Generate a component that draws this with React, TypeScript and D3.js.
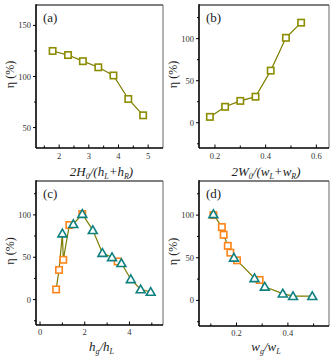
import { useRef, useEffect } from 'react';
import * as d3 from 'd3';

// panel (a)
const aX = [1.78, 2.3, 2.8, 3.32, 3.83, 4.33, 4.83];
const aY = [125, 121, 115, 109, 101, 78, 62];
// panel (b)
const bX = [0.18, 0.24, 0.3, 0.36, 0.42, 0.48, 0.54];
const bY = [7, 19, 26, 31, 62, 101, 119];
// panel (c)
const cSqX = [0.72, 0.85, 1.04, 1.31, 1.89, 3.47];
const cSqY = [12, 35, 47, 88, 101, 45];
const cTriX = [1.0, 1.49, 1.89, 2.36, 2.79, 3.22, 3.64, 4.06, 4.5, 4.95];
const cTriY = [78, 89, 101, 82, 55, 50, 43, 24, 12, 9];
// panel (d)
const dSqX = [0.11, 0.143, 0.15, 0.166, 0.176, 0.202, 0.29];
const dSqY = [100, 86, 77, 64, 56, 47, 24];
const dTriX = [0.11, 0.19, 0.27, 0.31, 0.38, 0.42, 0.495];
const dTriY = [101, 50, 26, 16, 8, 5, 5];

const aTicksX = [2, 3, 4, 5];
const aTicksY = [50, 100, 150];
const bTicksX = [0.2, 0.4, 0.6];
const cTicksX = [0, 2, 4];
const dTicksX = [0.2, 0.4];
const etaTicks = [0, 50, 100];

const OLIVE = '#8c8c00';
const LINE = '#7d7d00';
const ORANGE = '#ff8419';
const TEAL = '#0f8080';
const FONT = '"Liberation Serif", "Times New Roman", "DejaVu Serif", serif';

type P = { x: number; y: number; k: 'sq' | 'tri' | 'ol' };

export default function App() {
  const ref = useRef<SVGSVGElement>(null);

  useEffect(() => {
    document.body.style.margin = '0';
    const svg = d3.select(ref.current);
    svg.selectAll('*').remove();

    const panel = (o: any) => {
      const { l, r, t, b, xd, yd, xt, yt, xminor, yminor, pts, tag, xlab, tlo, xlo } = o;
      const x = d3.scaleLinear().domain(xd).range([l, r]);
      const y = d3.scaleLinear().domain(yd).range([b, t]);
      const g = svg.append('g').attr('font-family', FONT);

      // frame
      g.append('line').attr('x1', r).attr('x2', r).attr('y1', t).attr('y2', b)
        .attr('stroke', '#666').attr('stroke-width', 1);
      g.append('line').attr('x1', l).attr('x2', r).attr('y1', t).attr('y2', t)
        .attr('stroke', '#555').attr('stroke-width', 1.6);
      g.append('line').attr('x1', l).attr('x2', l).attr('y1', t - 0.8).attr('y2', b)
        .attr('stroke', '#000').attr('stroke-width', 1.6);
      g.append('line').attr('x1', l).attr('x2', r).attr('y1', b).attr('y2', b)
        .attr('stroke', '#000').attr('stroke-width', 1.4);

      // ticks
      xminor.forEach((v: number) => {
        const big = xt.includes(v);
        g.append('line').attr('x1', x(v)).attr('x2', x(v)).attr('y1', b).attr('y2', b - (big ? 3.5 : 2.5))
          .attr('stroke', '#000').attr('stroke-width', 1);
      });
      yminor.forEach((v: number) => {
        const big = yt.includes(v);
        g.append('line').attr('y1', y(v)).attr('y2', y(v)).attr('x1', l).attr('x2', l - (big ? 3 : 2))
          .attr('stroke', '#000').attr('stroke-width', 1);
      });
      xt.forEach((v: number) => {
        g.append('text').attr('x', x(v)).attr('y', b + tlo).attr('text-anchor', 'middle')
          .attr('font-size', 8.5).attr('fill', '#333').text(String(v));
      });
      yt.forEach((v: number) => {
        g.append('text').attr('x', l - 5).attr('y', y(v) + 3).attr('text-anchor', 'end')
          .attr('font-size', 8.5).attr('fill', '#333').text(String(v));
      });

      // y label
      g.append('text').attr('transform', `translate(${l - 22},${(t + b) / 2 - 2}) rotate(-90)`)
        .attr('text-anchor', 'middle').attr('font-size', 12).attr('fill', '#222').text('η (%)');

      // x label
      const xl = g.append('text').attr('x', (l + r) / 2 + 2).attr('y', b + xlo).attr('text-anchor', 'middle')
        .attr('font-size', 13).attr('font-style', 'italic').attr('fill', '#222');
      xlab.forEach((s: [string, number]) => {
        const ts = xl.append('tspan').text(s[0]);
        if (s[1] === 1) ts.attr('dy', 2.5).attr('font-size', 8);
        if (s[1] === -1) ts.attr('dy', -2.5);
      });

      // panel tag
      g.append('text').attr('x', l + 7).attr('y', t + 17).attr('font-size', 13)
        .attr('fill', '#222').text(tag);

      // line
      const sorted = [...pts].sort((p: P, q: P) => p.x - q.x);
      g.append('path').datum(sorted)
        .attr('d', d3.line<P>().x((d) => x(d.x)).y((d) => y(d.y)))
        .attr('fill', 'none').attr('stroke', LINE).attr('stroke-width', 1.2);

      const sq = pts.filter((p: P) => p.k !== 'tri');
      g.selectAll('rect.m').data(sq).enter().append('rect').attr('class', 'm')
        .attr('x', (d: P) => x(d.x) - 3.2).attr('y', (d: P) => y(d.y) - 3.2)
        .attr('width', 6.4).attr('height', 6.4).attr('fill', '#fff')
        .attr('stroke', (d: P) => (d.k === 'ol' ? OLIVE : ORANGE)).attr('stroke-width', 1.6);
      const tri = pts.filter((p: P) => p.k === 'tri');
      g.selectAll('path.t').data(tri).enter().append('path').attr('class', 't')
        .attr('d', d3.symbol().type(d3.symbolTriangle).size(34)())
        .attr('transform', (d: P) => `translate(${x(d.x)},${y(d.y) + 0.8})`)
        .attr('fill', '#fff').attr('stroke', TEAL).attr('stroke-width', 1.6);
    };

    const zip = (xs: number[], ys: number[], k: P['k']): P[] => xs.map((v, i) => ({ x: v, y: ys[i], k }));
    const half = (a: number, b: number, s: number) => d3.range(a, b + s / 2, s).map((v) => +v.toFixed(3));

    panel({
      l: 36, r: 163, t: 5, b: 148, xd: [1.22, 5.5], yd: [30, 170], tlo: 11, xlo: 28,
      xt: aTicksX, yt: aTicksY, xminor: half(1.5, 5, 0.5), yminor: half(50, 150, 25),
      pts: zip(aX, aY, 'ol'), tag: '(a)',
      xlab: [['2H', 0], ['0', 1], ['/(h', -1], ['L', 1], ['+h', -1], ['R', 1], [')', -1]],
    });
    panel({
      l: 199, r: 329, t: 5, b: 148, xd: [0.137, 0.65], yd: [-30, 140], tlo: 11, xlo: 28,
      xt: bTicksX, yt: etaTicks, xminor: half(0.2, 0.6, 0.1), yminor: half(-25, 125, 25),
      pts: zip(bX, bY, 'ol'), tag: '(b)',
      xlab: [['2W', 0], ['0', 1], ['/(w', -1], ['L', 1], ['+w', -1], ['R', 1], [')', -1]],
    });
    panel({
      l: 36, r: 163, t: 181, b: 325, xd: [-0.18, 5.5], yd: [-30, 140], tlo: 10, xlo: 26,
      xt: cTicksX, yt: etaTicks, xminor: half(0, 5, 1), yminor: half(-25, 125, 25),
      pts: [...zip(cSqX, cSqY, 'sq'), ...zip(cTriX, cTriY, 'tri')], tag: '(c)',
      xlab: [['h', 0], ['g', 1], ['/h', -1], ['L', 1]],
    });
    panel({
      l: 199, r: 329, t: 181, b: 326, xd: [0.054, 0.56], yd: [-30, 140], tlo: 10, xlo: 25,
      xt: dTicksX, yt: etaTicks, xminor: half(0.1, 0.5, 0.1), yminor: half(-25, 125, 25),
      pts: [...zip(dSqX, dSqY, 'sq'), ...zip(dTriX, dTriY, 'tri')], tag: '(d)',
      xlab: [['w', 0], ['g', 1], ['/w', -1], ['L', 1]],
    });
  }, []);

  return <svg ref={ref} width={332} height={356} style={{ display: 'block', background: '#fff' }} />;
}
